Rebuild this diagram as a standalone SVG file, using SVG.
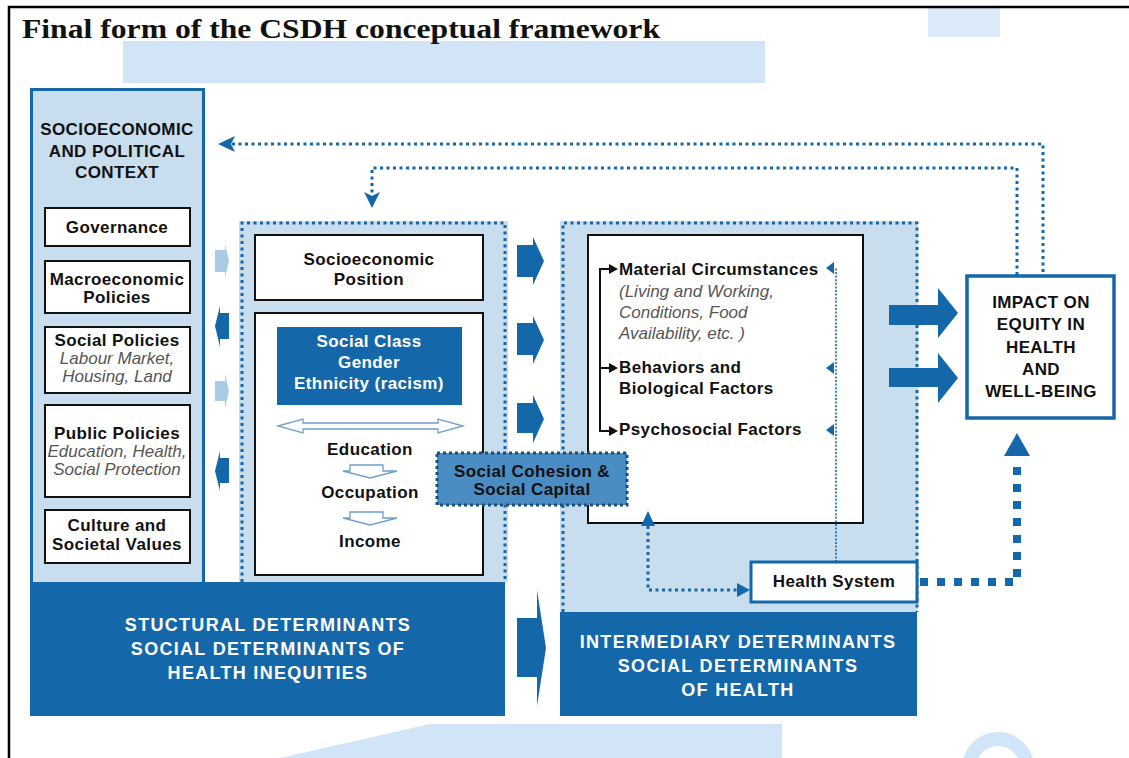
<svg xmlns="http://www.w3.org/2000/svg" width="1129" height="758" viewBox="0 0 1129 758">
<defs>
<style>
.t{font-family:"Liberation Sans",Arial,Helvetica,sans-serif;font-weight:bold;font-size:17px;letter-spacing:0.4px;fill:#111;text-anchor:middle}
.s{text-anchor:start}
.i{font-weight:normal;font-style:italic;fill:#555;letter-spacing:0}
.wt{fill:#fff}
.band{font-size:18px;letter-spacing:1.3px;fill:#fff}
.wb{fill:#fff;stroke:#111;stroke-width:2}
.dk{fill:#1467a8}
.lt{fill:#c8ddee}
.la{fill:#a8cbe6}
.wm{fill:#d2e5f8}
.dot{fill:none;stroke:#1467a8;stroke-width:3;stroke-dasharray:3 3.5}
.fine{fill:none;stroke:#1467a8;stroke-width:1.6;stroke-dasharray:2 1.6}
.thick{fill:none;stroke:#1467a8;stroke-width:8;stroke-dasharray:8 9}
.hol{fill:#fff;stroke:#6f9fcb;stroke-width:1.3}
.blk{fill:none;stroke:#111;stroke-width:2}
</style>
</defs>
<rect x="0" y="0" width="1129" height="758" fill="#fff"/>
<g id="watermark">
<rect class="wm" x="123" y="41" width="642" height="42"/>
<rect class="wm" x="928" y="8" width="72" height="29" opacity="0.8"/>
<polygon class="wm" points="280,758 430,724 782,724 782,758"/>
<circle cx="998" cy="768" r="29" fill="none" stroke="#d2e5f8" stroke-width="14"/>
</g>
<path d="M9 758 V7 H1129" fill="none" stroke="#000" stroke-width="2.5"/>
<text x="22" y="38" font-family="Liberation Serif,Times New Roman,serif" font-weight="bold" font-size="28" textLength="638" lengthAdjust="spacingAndGlyphs" fill="#111">Final form of the CSDH conceptual framework</text>

<g id="regions">
<rect class="lt" x="239" y="221" width="269" height="361"/>
<path class="dot" d="M242 582 V223 H505 V582"/>
<rect class="lt" x="560" y="221" width="358" height="391"/>
<path class="dot" d="M563 612 V223 H917 V612"/>
</g>

<g id="context">
<rect class="lt" x="31.5" y="89.5" width="172" height="494" stroke="#1467a8" stroke-width="3"/>
<text class="t" x="117" y="135">SOCIOECONOMIC</text>
<text class="t" x="117" y="157">AND POLITICAL</text>
<text class="t" x="117" y="178">CONTEXT</text>
</g>
<g id="governance">
<rect class="wb" x="45" y="208" width="145" height="38"/>
<text class="t" x="117" y="233">Governance</text>
</g>
<g id="macro">
<rect class="wb" x="45" y="261" width="145" height="52"/>
<text class="t" x="117" y="285">Macroeconomic</text>
<text class="t" x="117" y="303">Policies</text>
</g>
<g id="social-policies">
<rect class="wb" x="45" y="327" width="145" height="66"/>
<text class="t" x="117" y="346">Social Policies</text>
<text class="t i" x="117" y="364" font-size="15.5">Labour Market,</text>
<text class="t i" x="117" y="382" font-size="15.5">Housing, Land</text>
</g>
<g id="public-policies">
<rect class="wb" x="45" y="405" width="145" height="92"/>
<text class="t" x="117" y="439">Public Policies</text>
<text class="t i" x="117" y="457" font-size="15.5">Education, Health,</text>
<text class="t i" x="117" y="475" font-size="15.5">Social Protection</text>
</g>
<g id="culture">
<rect class="wb" x="45" y="510" width="145" height="53"/>
<text class="t" x="117" y="531">Culture and</text>
<text class="t" x="117" y="550">Societal Values</text>
</g>

<g id="sep">
<rect class="wb" x="255" y="235" width="228" height="65"/>
<text class="t" x="369" y="265">Socioeconomic</text>
<text class="t" x="369" y="285">Position</text>
</g>
<g id="sep-detail">
<rect class="wb" x="255" y="313" width="228" height="262"/>
<rect class="dk" x="277" y="327" width="185" height="78"/>
<text class="t wt" x="369" y="347">Social Class</text>
<text class="t wt" x="369" y="368">Gender</text>
<text class="t wt" x="369" y="389">Ethnicity (racism)</text>
<polygon class="hol" points="278,426 303,419 303,423 438,423 438,419 463,426 438,433 438,429 303,429 303,433"/>
<text class="t" x="370" y="455">Education</text>
<polygon class="hol" points="350,465 383,465 383,471 397,471 370,478 343,471 350,471"/>
<text class="t" x="370" y="498">Occupation</text>
<polygon class="hol" points="350,512 383,512 383,518 397,518 370,525 343,518 350,518"/>
<text class="t" x="370" y="547">Income</text>
</g>

<g id="intermediary-box">
<rect class="wb" x="588" y="235" width="275" height="288"/>
<text class="t s" x="619" y="275">Material Circumstances</text>
<text class="t s i" x="619" y="297" font-size="16.5">(Living and Working,</text>
<text class="t s i" x="619" y="318" font-size="16.5">Conditions, Food</text>
<text class="t s i" x="619" y="339" font-size="16.5">Availability, etc. )</text>
<text class="t s" x="619" y="373">Behaviors and</text>
<text class="t s" x="619" y="394">Biological Factors</text>
<text class="t s" x="619" y="435">Psychosocial Factors</text>
</g>

<g id="bands">
<rect class="dk" x="30" y="582" width="475" height="134"/>
<text class="t band" x="268" y="631">STUCTURAL DETERMINANTS</text>
<text class="t band" x="268" y="655">SOCIAL DETERMINANTS OF</text>
<text class="t band" x="268" y="679">HEALTH INEQUITIES</text>
<rect class="dk" x="560" y="612" width="357" height="104"/>
<text class="t band" x="738" y="648">INTERMEDIARY DETERMINANTS</text>
<text class="t band" x="738" y="672">SOCIAL DETERMINANTS</text>
<text class="t band" x="738" y="696">OF HEALTH</text>
</g>

<g id="connectors">
<path class="la" d="M215 250 H225 V244 L229 261 L225 278 V272 H215 Z"/>
<path class="dk" d="M229 313 H220 V306 L215 326 L220 347 V339 H229 Z"/>
<path class="la" d="M215 381 H225 V374 L229 391 L225 408 V401 H215 Z"/>
<path class="dk" d="M229 458 H220 V451 L215 471 L220 491 V483 H229 Z"/>
<path class="dk" d="M517 245 H533 V237 L544 261 L533 285 V277 H517 Z"/>
<path class="dk" d="M517 323 H533 V316 L544 340 L533 364 V355 H517 Z"/>
<path class="dk" d="M517 403 H533 V395 L544 419 L533 443 V433 H517 Z"/>
<path class="dk" d="M517 618 H537 V590 L546 648 L537 706 V677 H517 Z"/>
<path class="dk" d="M889 305 H938 V288 L958 313 L938 338 V325 H889 Z"/>
<path class="dk" d="M889 368 H938 V353 L958 378 L938 403 V387 H889 Z"/>
<path class="dot" d="M232 144 H1043 V275"/>
<polygon class="dk" points="218,144 235,136 231,144 235,152"/>
<path class="dot" d="M1017 275 V168 H372 V195"/>
<polygon class="dk" points="372,208 364,192 372,196 380,192"/>
<path class="fine" d="M836 562 V268"/>
<polygon class="dk" points="826,268 834,262 834,274"/>
<polygon class="dk" points="826,368 834,362 834,374"/>
<polygon class="dk" points="826,430 834,424 834,436"/>
<path class="blk" d="M610 269 H600 V431 H610 M600 368 H610"/>
<polygon fill="#111" points="609,264 618,269 609,274"/>
<polygon fill="#111" points="609,363 618,368 609,373"/>
<polygon fill="#111" points="609,426 618,431 609,436"/>
<path class="dot" d="M648 526 V590 H738"/>
<polygon class="dk" points="648,511 641,526 655,526"/>
<polygon class="dk" points="750,590 737,583 737,597"/>
<path class="thick" d="M920 582 H1017 V458"/>
<polygon class="dk" points="1017,433 1004,456 1030,456"/>
</g>

<g id="social-cohesion">
<rect x="437" y="453" width="190" height="52" fill="#4a8cc4" stroke="#1a4f80" stroke-width="3" stroke-dasharray="3 3"/>
<text class="t" x="532" y="477" fill="#0d1b2a">Social Cohesion &amp;</text>
<text class="t" x="532" y="495" fill="#0d1b2a">Social Capital</text>
</g>

<g id="health-system">
<rect x="751" y="562" width="166" height="40" fill="#fff" stroke="#1467a8" stroke-width="3"/>
<text class="t" x="834" y="587">Health System</text>
</g>

<g id="impact">
<rect x="967" y="276" width="147" height="142" fill="#fff" stroke="#1467a8" stroke-width="3.5"/>
<text class="t" x="1041" y="308">IMPACT ON</text>
<text class="t" x="1041" y="330">EQUITY IN</text>
<text class="t" x="1041" y="353">HEALTH</text>
<text class="t" x="1041" y="375">AND</text>
<text class="t" x="1041" y="397">WELL-BEING</text>
</g>
</svg>
